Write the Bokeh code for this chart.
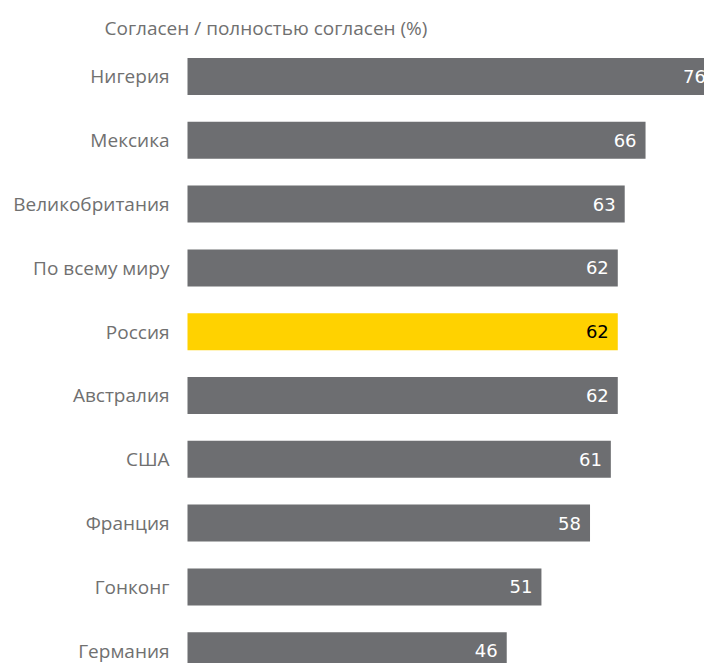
from bokeh.plotting import figure
from bokeh.models import ColumnDataSource, Range1d, Label
from bokeh.core.properties import value
from bokeh.embed import file_html
from bokeh.resources import INLINE

countries = ["Нигерия", "Мексика", "Великобритания", "По всему миру", "Россия",
             "Австралия", "США", "Франция", "Гонконг", "Германия"]
values = [76, 66, 63, 62, 62, 62, 61, 58, 51, 46]
highlight = "Россия"
title_text = "Согласен / полностью согласен (%)"

n = len(countries)
ypos = [n - 1 - i for i in range(n)]
colors = ["#ffd200" if c == highlight else "#6d6e71" for c in countries]
txt_colors = ["#000000" if c == highlight else "#ffffff" for c in countries]
labels = [str(v) for v in values]
zeros = [0] * n

src = ColumnDataSource(dict(y=ypos, v=values, c=colors, tc=txt_colors, lab=labels,
                            cat=countries, z=zeros))

W, H = 704, 663
left = 187
scale = 6.94  # px per unit
p = figure(width=W, height=H, output_backend="svg", toolbar_location=None,
           x_range=Range1d(-left / scale, (W - left) / scale),
           y_range=Range1d(-0.2006, 10.191),
           min_border=0, outline_line_color=None)
p.xaxis.visible = False
p.yaxis.visible = False
p.xgrid.visible = False
p.ygrid.visible = False

p.hbar(y="y", right="v", left=0, height=0.58, fill_color="c", line_color=None, source=src)
p.text(x="v", y="y", text="lab", text_color="tc", x_offset=-9,
       text_align="right", text_baseline="middle",
       text_font=value("DejaVu Sans"), text_font_size="18px", source=src)
p.text(x="z", y="y", text="cat", text_color="#707070", x_offset=-18,
       text_align="right", text_baseline="middle",
       text_font=value("Open Sans"), text_font_size="19px", source=src)

p.add_layout(Label(x=104, y=H - 27, x_units="screen", y_units="screen", text=title_text,
                   text_font="Open Sans", text_font_size="19px", text_color="#707070",
                   text_baseline="middle", text_align="left"))

open("out.html", "w").write(file_html(p, INLINE))
